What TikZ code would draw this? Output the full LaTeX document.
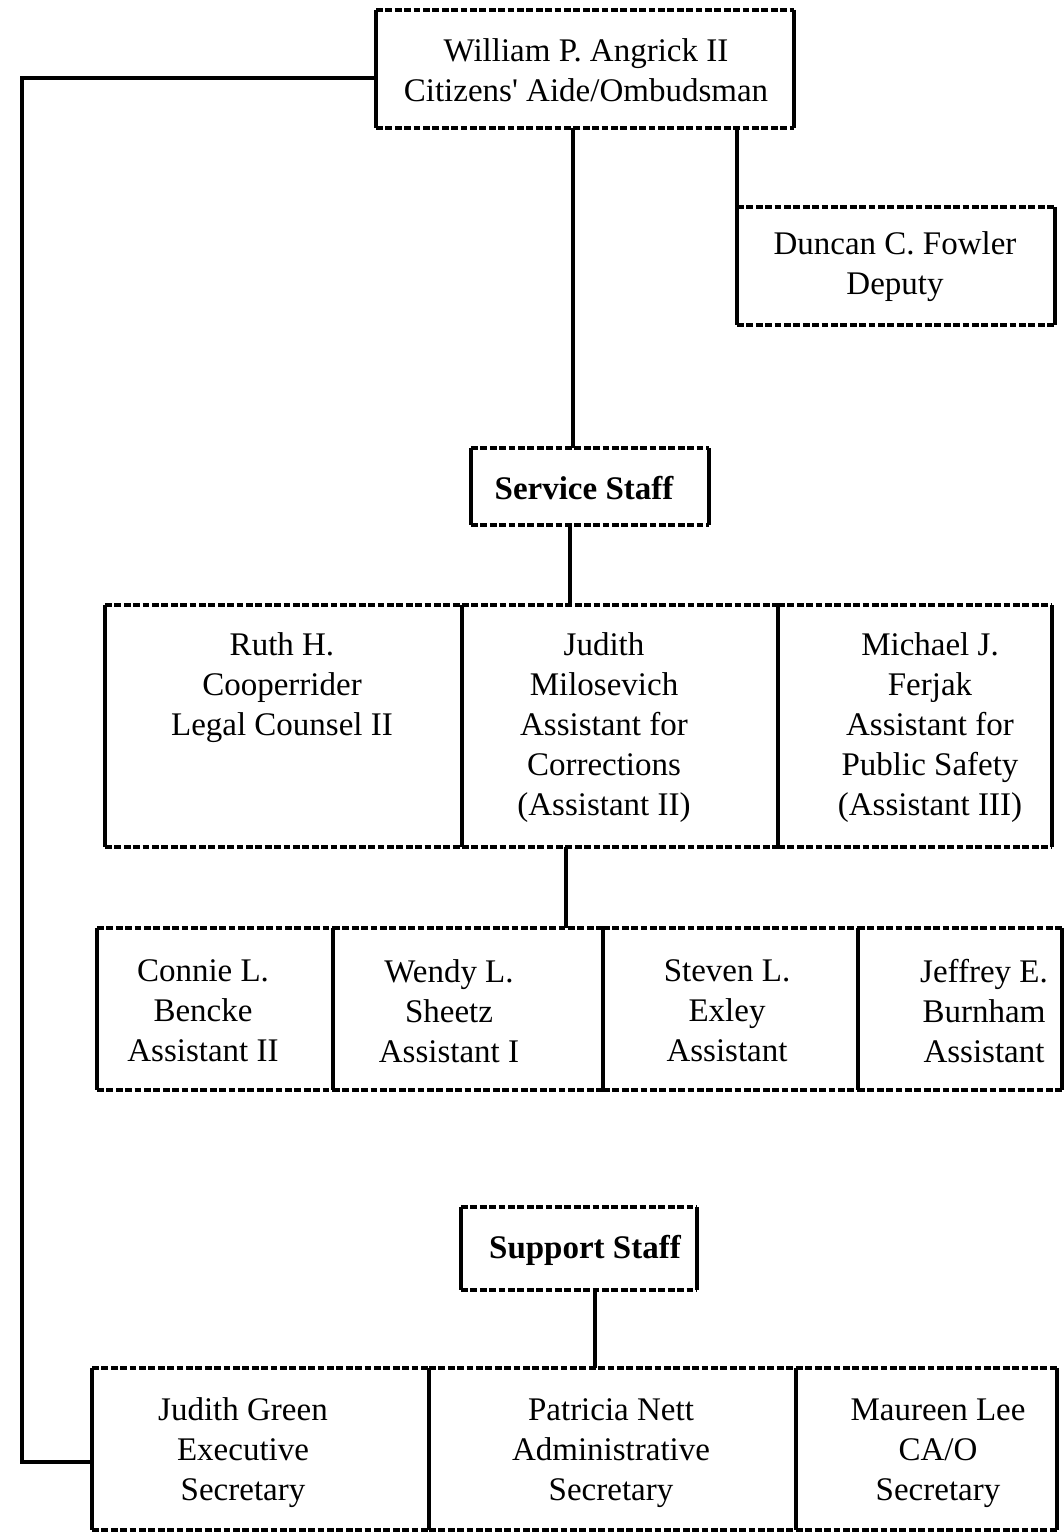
\documentclass[tikz,border=0pt]{standalone}
\usepackage{fontspec}
\setmainfont{Liberation Serif}
\begin{document}
\begin{tikzpicture}[x=0.5pt,y=-0.5pt,
  cellbox/.style={draw=none, inner sep=0pt, outer sep=0pt},
  dashedge/.style={line width=1.6pt, dash pattern=on 3.4pt off 1.3pt},
  sideedge/.style={line width=1.7pt},
  link/.style={line width=1.7pt},
  lbl/.style={align=center, inner sep=0pt, font=\fontsize{16.5}{20}\selectfont},
  head/.style={lbl, font=\fontsize{16.5}{20}\selectfont\bfseries}]
\useasboundingbox (0,0) rectangle (1064,1535);

% a box: name, left, top, right, bottom (pixel units); dashed top and bottom, solid sides
\newcommand\orgbox[5]{%
  \node[cellbox, minimum width={(#4-#2)*0.5pt}, minimum height={(#5-#3)*0.5pt}] (#1) at ({(#2+#4)/2},{(#3+#5)/2}) {};
  \draw[dashedge] (#1.north west) -- (#1.north east) (#1.south west) -- (#1.south east);
  \draw[sideedge] (#1.north west) -- (#1.south west) (#1.north east) -- (#1.south east);
}

% head of office and deputy
\orgbox{ang}{376}{10}{794}{128}
\orgbox{dep}{737}{207}{1055}{325}
% staff headings
\orgbox{svc}{471}{448}{709}{525}
\orgbox{sup}{461}{1207}{697}{1290}
% service staff row
\orgbox{ruth}{105}{605}{462}{847}
\orgbox{jmil}{462}{605}{778}{847}
\orgbox{mich}{778}{605}{1052}{847}
% assistants row
\orgbox{conn}{97}{928}{333}{1090}
\orgbox{wend}{333}{928}{603}{1090}
\orgbox{stev}{603}{928}{858}{1090}
\orgbox{jeff}{858}{928}{1062}{1090}
% support staff row
\orgbox{gree}{92}{1368}{429}{1530}
\orgbox{patr}{429}{1368}{796}{1530}
\orgbox{maur}{796}{1368}{1057}{1530}

% texts
\node[lbl] (t-ang) at (586,70) {William P. Angrick II\\Citizens\textquotesingle{} Aide/Ombudsman};
\node[lbl] (t-dep) at (895,267) {Duncan C. Fowler\\Deputy};
\node[head] (t-svc) at (584,488) {Service Staff};
\node[head] (t-sup) at (585,1250) {Support Staff};
\node[lbl] (t-ruth) at (282,688) {Ruth H.\\Cooperrider\\Legal Counsel II};
\node[lbl] (t-jmil) at (604,728) {Judith\\Milosevich\\Assistant for\\Corrections\\(Assistant II)};
\node[lbl] (t-mich) at (930,728) {Michael J.\\Ferjak\\Assistant for\\Public Safety\\(Assistant III)};
\node[lbl] (t-conn) at (203,1011) {Connie L.\\Bencke\\Assistant II};
\node[lbl] (t-wend) at (449,1011) {Wendy L.\\Sheetz\\Assistant I};
\node[lbl] (t-stev) at (727,1011) {Steven L.\\Exley\\Assistant};
\node[lbl] (t-jeff) at (984,1011) {Jeffrey E.\\Burnham\\Assistant};
\node[lbl] (t-gree) at (243,1453) {Judith Green\\Executive\\Secretary};
\node[lbl] (t-patr) at (611,1453) {Patricia Nett\\Administrative\\Secretary};
\node[lbl] (t-maur) at (938,1453) {Maureen Lee\\CA/O\\Secretary};

% connectors
\coordinate (elbowtop) at (22,78);
\coordinate (elbowbot) at (22,1462);
\draw[link] ([yshift=-4.5pt]ang.west) -- (elbowtop) -- (elbowbot) -- ([yshift=-6.5pt]gree.west);
\draw[link] ([xshift=-8.5pt]svc.north) -- ([xshift=-8.5pt]svc.north |- ang.south);
\draw[link] (dep.north west) -- (dep.north west |- ang.south);
\draw[link] ([xshift=-10pt]svc.south) -- ([xshift=-10pt]svc.south |- jmil.north);
\draw[link] ([xshift=-27pt]jmil.south) -- ([xshift=-27pt]jmil.south |- wend.north);
\draw[link] ([xshift=8pt]sup.south) -- ([xshift=8pt]sup.south |- patr.north);
\end{tikzpicture}
\end{document}
